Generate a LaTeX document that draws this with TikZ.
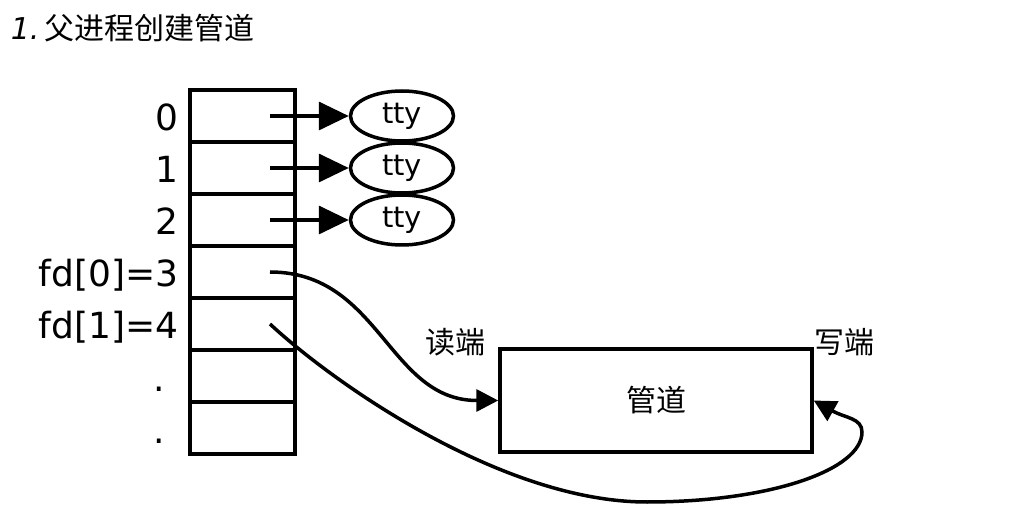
\documentclass[tikz,border=0pt]{standalone}
\usepackage{fontspec}
\setmainfont{DejaVu Sans}
\newfontfamily\cjk{Noto Sans CJK SC}
\usetikzlibrary{arrows.meta,positioning,shapes.geometric}

\begin{document}
\begin{tikzpicture}[x=1pt, y=-1pt, line width=3.5pt,
  cell/.style={draw,minimum width=105pt,minimum height=52pt,inner sep=0pt},
  ttynode/.style={draw,ellipse,minimum width=103pt,minimum height=50pt,inner sep=0pt,font=\fontsize{29}{31}\selectfont},
  fdlabel/.style={inner sep=0pt,text height=32pt,text depth=2pt,font=\fontsize{36}{38}\selectfont},
  cnlabel/.style={inner sep=0pt,font=\cjk\fontsize{30}{32}\selectfont}]
  \useasboundingbox (0,0) rectangle (1031,521);
  \node[anchor=west,inner sep=0pt,font=\fontsize{30}{32}\selectfont] (title) at (9,28) {\textit{1.}\,{\cjk 父进程创建管道}};
  % fd table
  \foreach \i in {0,...,6} \node[cell] (c\i) at (242.5,{116+52*\i}) {};
  \foreach \i/\t in {0/0,1/1,2/2,3/{fd[0]=3},4/{fd[1]=4}} \node[fdlabel,left=8pt of c\i] (l\i) {\t};
  \node[fdlabel,left=22pt of c5] (l5) {.};
  \node[fdlabel,left=22pt of c6] (l6) {.};
  % stdin/stdout/stderr
  \foreach \i in {0,1,2} {
    \node[ttynode,right=52pt of c\i] (t\i) {tty};
    \draw[-{Triangle[length=30pt,width=28pt]}] ([xshift=27.5pt]c\i.center) -- (t\i);
  }
  % pipe
  \node[draw,cnlabel,minimum width=312pt,minimum height=103pt] (pipe) at (656,400.5) {管道};
  \node[cnlabel] (rd) at (455,342) {读端};
  \node[cnlabel] (wr) at (844,342) {写端};
  \draw[-{Triangle[length=22pt,width=22pt]}] ([xshift=27.5pt]c3.center) .. controls +(110,0) and +(-110,0) .. (pipe.west);
  \draw[-{Triangle[length=22pt,width=22pt]}] ([xshift=27.5pt]c4.center) .. controls (330,380) and (500,502) .. (647,502) .. controls (770,502) and (862,470) .. (862,432) .. controls (862,418) and (845,418) .. (pipe.east);
\end{tikzpicture}
\end{document}
